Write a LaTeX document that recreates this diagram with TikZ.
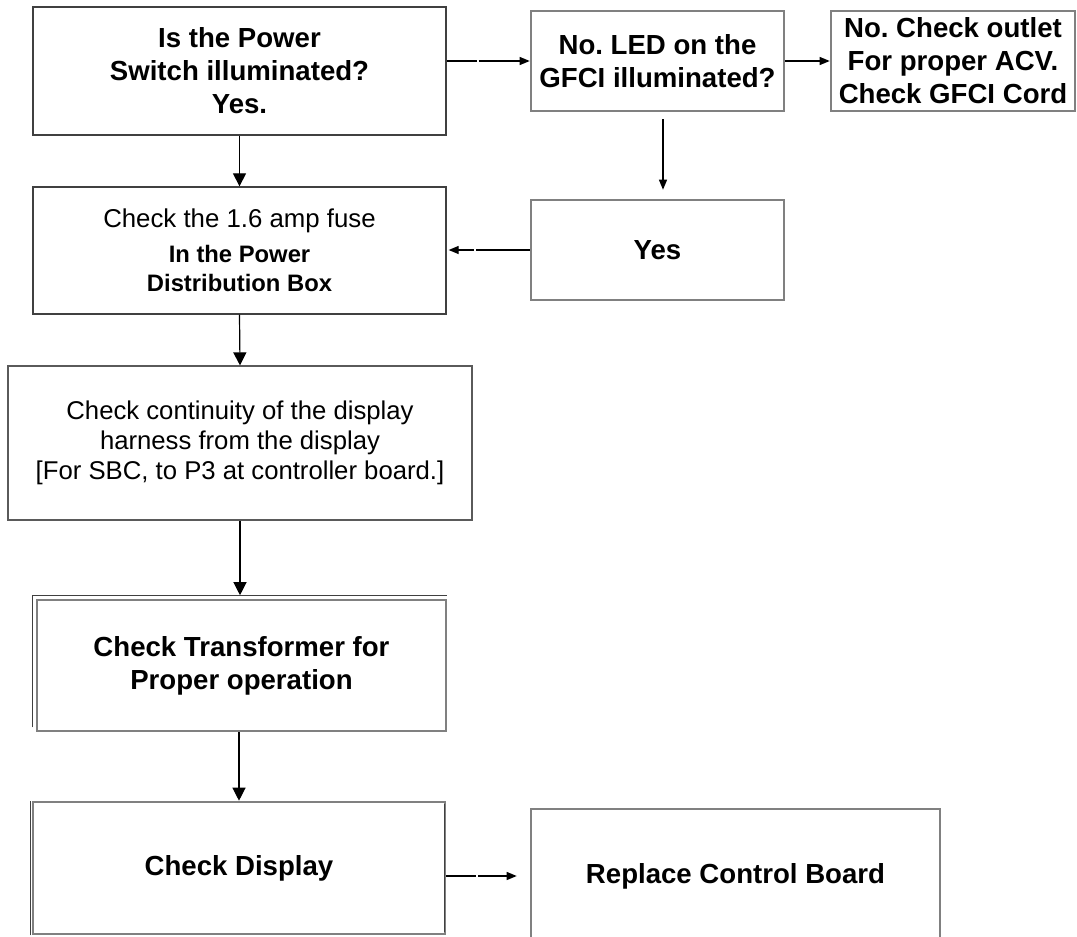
\documentclass[tikz,border=0pt]{standalone}
\usepackage{fontspec}
\setmainfont{Liberation Sans}
\usetikzlibrary{arrows.meta,calc}
\definecolor{boxgray}{HTML}{808080}
\definecolor{darkedge}{HTML}{404040}
\definecolor{midedge}{HTML}{5A5A5A}
\frenchspacing
\begin{document}
\begin{tikzpicture}[x=1pt,y=-1pt,
  thinbox/.style={draw=darkedge, line width=1.3pt, rectangle, inner sep=0pt, align=center},
  graybox/.style={draw=boxgray, line width=2.6pt, rectangle, inner sep=0pt, align=center},
  bigfont/.style={font=\bfseries\fontsize{27.6}{33}\selectfont},
  conn/.style={line width=1.2pt, -{Triangle[length=10pt,width=8pt]}},
  bigconn/.style={line width=1.2pt, -{Triangle[length=13pt,width=13pt]}},
  gapconnA/.style={conn, dash pattern=on 30pt off 2pt on 300pt},
  gapconnB/.style={conn, dash pattern=on 54pt off 2pt on 300pt}]
\clip (0,0) rectangle (1077,937);
\fill[white] (0,0) rectangle (1077,937);

\node[thinbox, bigfont, minimum width=413pt, minimum height=128pt] (A) at (239.5,71)
  {Is the Power\\Switch illuminated?\\Yes.};
\node[thinbox, minimum width=413pt, minimum height=127pt,
  font=\bfseries\fontsize{23.8}{29}\selectfont] (D) at (239.5,250.5)
  {{\mdseries\fontsize{25.8}{29}\selectfont Check the 1.6 amp fuse}\\[6pt]In the Power\\Distribution Box};
\node[graybox, bigfont, minimum width=253pt, minimum height=100pt] (B) at (657.5,61)
  {No. LED on the\\GFCI illuminated?};
\node[graybox, bigfont, minimum width=244pt, minimum height=100pt] (C) at (953,61)
  {No. Check outlet\\For proper ACV.\\Check GFCI Cord};
\node[graybox, bigfont, minimum width=253pt, minimum height=100pt] (Y) at (657.5,250) {Yes};
\node[draw=midedge, line width=1.2pt, rectangle, inner sep=0pt, align=center,
  minimum width=464pt, minimum height=154pt,
  font=\fontsize{25.7}{30}\selectfont] (E) at (240,443)
  {Check continuity of the display\\harness from the display\\{[}For SBC, to P3 at controller board.{]}};
\node[graybox, bigfont, minimum width=409pt, minimum height=131pt] (F) at (241.5,665.5)
  {Check Transformer for\\Proper operation};
\node[graybox, bigfont, minimum width=412pt, minimum height=132pt] (G) at (239,868) {Check Display};
\node[graybox, bigfont, minimum width=409pt, minimum height=134pt] (H) at (735.5,876) {Replace Control Board};

% edge accents
\draw[darkedge, line width=1pt] ([xshift=-3.5pt,yshift=5pt]F.south west) -- ([xshift=-3.5pt,yshift=3.5pt]F.north west) -- ([yshift=3.5pt]F.north east);
\draw[darkedge, line width=1pt] ([xshift=-1pt]G.south west) -- ([xshift=-1pt]G.north west);
\draw[darkedge, line width=1pt] ([xshift=-2pt,yshift=-3pt]G.north east) -- ([xshift=-2pt,yshift=3pt]G.south east);

% connectors
\draw[gapconnA] (A.east |- B.west) -- (B.west);
\draw[conn] (B.east) -- (C.west);
\draw[conn] ([xshift=5.5pt,yshift=-7pt]B.south) -- ([xshift=5.5pt,yshift=9pt]Y.north);
\draw[gapconnB] (Y.west) -- ($(D.east |- Y.west)+(2,0)$);
\draw[bigconn] (A.south) -- (D.north);
\draw[bigconn] (D.south) -- (E.north);
\draw[bigconn] (E.south) -- ($(E.south |- F.north)+(0,-3.5)$);
\draw[bigconn] (G.north |- F.south) -- (G.north);
\draw[gapconnA] (G.east |- H.west) -- ($(H.west)+(-13,0)$);
\end{tikzpicture}
\end{document}
